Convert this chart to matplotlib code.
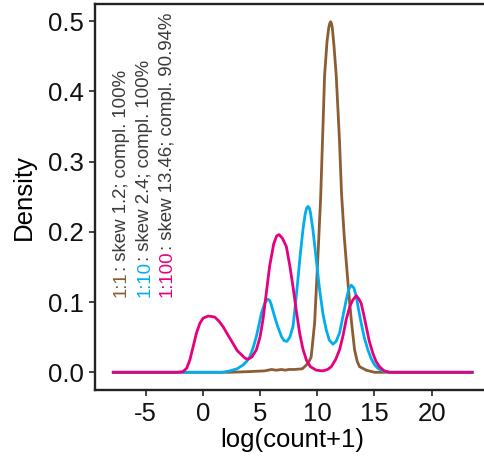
import matplotlib
matplotlib.use("Agg")
import matplotlib.pyplot as plt
from matplotlib.font_manager import FontProperties
from matplotlib.transforms import offset_copy

plt.rcParams['font.family'] = ['Liberation Sans', 'DejaVu Sans']
plt.rcParams['axes.unicode_minus'] = False

# density curves (x = log(count+1), y = density)
x_11 = [-7.82, 2.3, 4.1, 5.4, 6.0, 6.4, 6.9, 7.2, 7.5, 8.0, 8.7, 9.05, 9.3, 9.47,
        9.77, 10.06, 10.30, 10.47, 10.64, 10.85, 11.0, 11.1, 11.17, 11.25, 11.32,
        11.46, 11.66, 11.82, 11.95, 12.12, 12.35, 12.59, 12.8, 12.97, 13.26, 13.5,
        13.7, 14.28, 15.0, 23.53]
y_11 = [0, 0, 0.001, 0.002, 0.004, 0.003, 0.004, 0.003, 0.004, 0.004, 0.005, 0.0104,
        0.016, 0.022, 0.070, 0.165, 0.250, 0.335, 0.422, 0.470, 0.490, 0.497, 0.499,
        0.496, 0.490, 0.465, 0.422, 0.370, 0.327, 0.255, 0.195, 0.146, 0.105, 0.075,
        0.032, 0.015, 0.008, 0.003, 0, 0]

x_110 = [-7.82, 1.74, 2.36, 3.0, 3.52, 3.8, 4.1, 4.4, 4.68, 4.9, 5.12, 5.4, 5.55,
         5.7, 5.85, 5.95, 6.28, 6.55, 6.87, 7.1, 7.35, 7.6, 7.88, 8.05, 8.31, 8.5,
         8.75, 8.95, 9.08, 9.19, 9.3, 9.4, 9.62, 9.85, 10.21, 10.5, 10.79, 11.05,
         11.37, 11.65, 11.95, 12.25, 12.53, 12.75, 12.97, 13.2, 13.41, 13.6, 13.84,
         14.1, 14.42, 14.7, 15.01, 15.35, 15.73, 16.31, 23.53]
y_110 = [0, 0, 0.002, 0.005, 0.0104, 0.015, 0.022, 0.035, 0.051, 0.067, 0.084, 0.098,
         0.102, 0.104, 0.102, 0.098, 0.079, 0.065, 0.051, 0.045, 0.044, 0.050, 0.065,
         0.090, 0.132, 0.165, 0.203, 0.226, 0.234, 0.236, 0.234, 0.228, 0.203, 0.170,
         0.117, 0.083, 0.060, 0.046, 0.040, 0.044, 0.056, 0.080, 0.103, 0.118, 0.124,
         0.120, 0.108, 0.090, 0.070, 0.050, 0.032, 0.020, 0.0104, 0.005, 0.002, 0, 0]

x_1100 = [-7.82, -2.2, -1.72, -1.4, -1.13, -0.85, -0.55, -0.25, 0.03, 0.46, 0.75,
          1.05, 1.4, 1.77, 2.2, 2.64, 3.0, 3.38, 3.7, 3.95, 4.3, 4.68, 5.0, 5.26,
          5.55, 5.84, 6.2, 6.45, 6.66, 6.95, 7.3, 7.6, 7.88, 8.15, 8.46, 8.75, 9.05,
          9.4, 9.92, 10.49, 10.9, 11.23, 11.6, 11.95, 12.25, 12.53, 12.85, 13.11,
          13.41, 13.65, 13.84, 14.05, 14.28, 14.55, 14.86, 15.15, 15.44, 15.85,
          16.31, 23.53]
y_1100 = [0, 0, 0.001, 0.006, 0.0175, 0.036, 0.056, 0.070, 0.077, 0.080, 0.0795,
          0.0785, 0.073, 0.065, 0.053, 0.041, 0.031, 0.025, 0.020, 0.0185, 0.022,
          0.032, 0.050, 0.075, 0.113, 0.151, 0.183, 0.194, 0.196, 0.191, 0.179,
          0.152, 0.122, 0.090, 0.056, 0.033, 0.0175, 0.008, 0.003, 0.002, 0.004,
          0.008, 0.018, 0.032, 0.052, 0.075, 0.094, 0.103, 0.109, 0.104, 0.098,
          0.083, 0.065, 0.044, 0.027, 0.015, 0.008, 0.002, 0, 0]

ratios = ['1:1', '1:10', '1:100']
stats = [': skew 1.2; compl. 100%', ': skew 2.4; compl. 100%',
         ': skew 13.46; compl. 90.94%']
colors = ['#8c5c32', '#00aeef', '#e6007e']

fig = plt.figure(figsize=(4.84, 4.61), dpi=100)
ax = fig.add_axes([0.197, 0.1544, 0.8155, 0.8365])

for xs, ys, c in zip([x_11, x_110, x_1100], [y_11, y_110, y_1100], colors):
    ax.plot(xs, ys, color=c, lw=2, solid_joinstyle='round', zorder=3)

ax.margins(x=0.05, y=0.05)
ax.set_xticks([-5, 0, 5, 10, 15, 20])
ax.set_yticks([0, 0.1, 0.2, 0.3, 0.4, 0.5])
ax.set_yticklabels(['0.0', '0.1', '0.2', '0.3', '0.4', '0.5'])

for s in ax.spines.values():
    s.set_linewidth(1.7)
    s.set_color('#222222')
ax.tick_params(axis='both', length=4, width=1.2, color='#222222',
               labelsize=18.5, labelcolor='#111111')
ax.tick_params(axis='x', pad=5)
ax.tick_params(axis='y', pad=4.3)
ax.set_xlabel('log(count+1)', fontsize=18.5, labelpad=1)
ax.set_ylabel('Density', fontsize=18.5, labelpad=9)

# rotated labels: coloured ratio, then grey stats shifted by the ratio's width
fp = FontProperties(family=['Liberation Sans', 'DejaVu Sans'], size=13.4)
renderer = fig.canvas.get_renderer()
x_lab = [-6.72, -4.67, -2.70]
for xl, r, st, c in zip(x_lab, ratios, stats, colors):
    w_full = renderer.get_text_width_height_descent(r + st, fp, ismath=False)[0]
    w_rest = renderer.get_text_width_height_descent(st, fp, ismath=False)[0]
    shift = offset_copy(ax.transData, fig=fig, x=0, y=w_full - w_rest, units='dots')
    ax.text(xl, 0.107, r, color=c, fontproperties=fp, rotation=90,
            rotation_mode='anchor', ha='left', va='baseline')
    ax.text(xl, 0.107, st, color='#3a3a3a', fontproperties=fp, rotation=90,
            rotation_mode='anchor', ha='left', va='baseline', transform=shift)

fig.savefig('out.png', dpi=100)
